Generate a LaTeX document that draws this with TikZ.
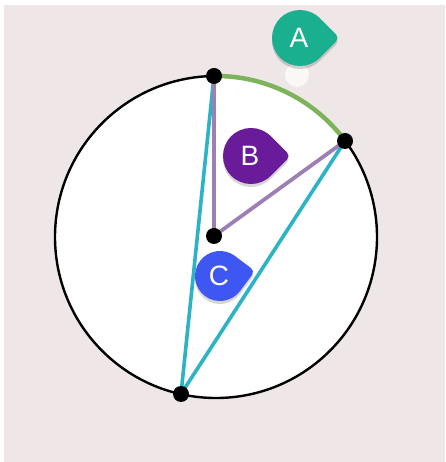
\documentclass[tikz,border=0pt]{standalone}
\usepackage{fontspec}
\setmainfont{Liberation Sans}
\definecolor{bgpink}{HTML}{EFE7E7}
\definecolor{cyanline}{HTML}{2BB3C6}
\definecolor{purpline}{HTML}{9C80B4}
\definecolor{greenarc}{HTML}{7DB35A}
\definecolor{pinA}{HTML}{1AAF8E}
\definecolor{pinB}{HTML}{6A1B9A}
\definecolor{pinC}{HTML}{3F57F2}
\tikzset{
  dotnode/.style={circle, fill=black, inner sep=0pt, minimum size=16pt},
  cyanseg/.style={cyanline, line width=3.6pt},
  purpseg/.style={purpline, line width=3.8pt},
  letter/.style={text=white, font=\fontsize{28}{28}\selectfont, inner sep=0pt},
}
\newcommand\pinpath[1]{% radius
  (45:#1) arc[start angle=45, end angle=315, radius=#1]
  -- ({#1*1.4142-3.5355}, -3.5355) arc[start angle=-45, end angle=45, radius=5] -- cycle}
\newcommand\droppin[6]{% x, y, radius, angle, colour, name/letter
  \begin{scope}[shift={(#1,#2-3)}, rotate=#4]
    \fill[black, opacity=0.16] \pinpath{#3};
  \end{scope}
  \begin{scope}[shift={(#1,#2)}, rotate=#4]
    \fill[#5] \pinpath{#3};
  \end{scope}
  \node[letter] (#6) at (#1-1,#2) {#6};
}
\begin{document}
\begin{tikzpicture}[x=1pt, y=1pt]
  \useasboundingbox (0,0) rectangle (445,462);
  \fill[white] (0,0) rectangle (445,462);
  \fill[bgpink] (4,0) rectangle (445,457);
  % circle
  \fill[white] (216,225) circle[radius=161];
  \draw[black, line width=2.4pt] (216,225) circle[radius=161];
  % points
  \coordinate (Tc) at (214,386);
  \coordinate (Rc) at (345,321);
  \coordinate (Bc) at (181,68);
  \coordinate (Oc) at (214,226);
  % white glow under A
  \fill[white, opacity=0.7] (297,387) circle[radius=12];
  % chords
  \draw[cyanseg] (Tc) -- (Bc);
  \draw[cyanseg] (Rc) -- (Bc);
  \draw[purpseg] (Tc) -- (Oc) -- (Rc);
  % green arc
  \draw[greenarc, line width=4.5pt] (Tc) arc[start angle=90.7, end angle=36.66, radius=161];
  % markers
  \droppin{300}{424}{28}{0}{pinA}{A}
  \droppin{251}{306}{28}{0}{pinB}{B}
  \droppin{220}{186}{25}{8}{pinC}{C}
  % dots
  \node[dotnode] (T) at (Tc) {};
  \node[dotnode] (R) at (Rc) {};
  \node[dotnode] (Bt) at (Bc) {};
  \node[dotnode] (O) at (Oc) {};
\end{tikzpicture}
\end{document}
